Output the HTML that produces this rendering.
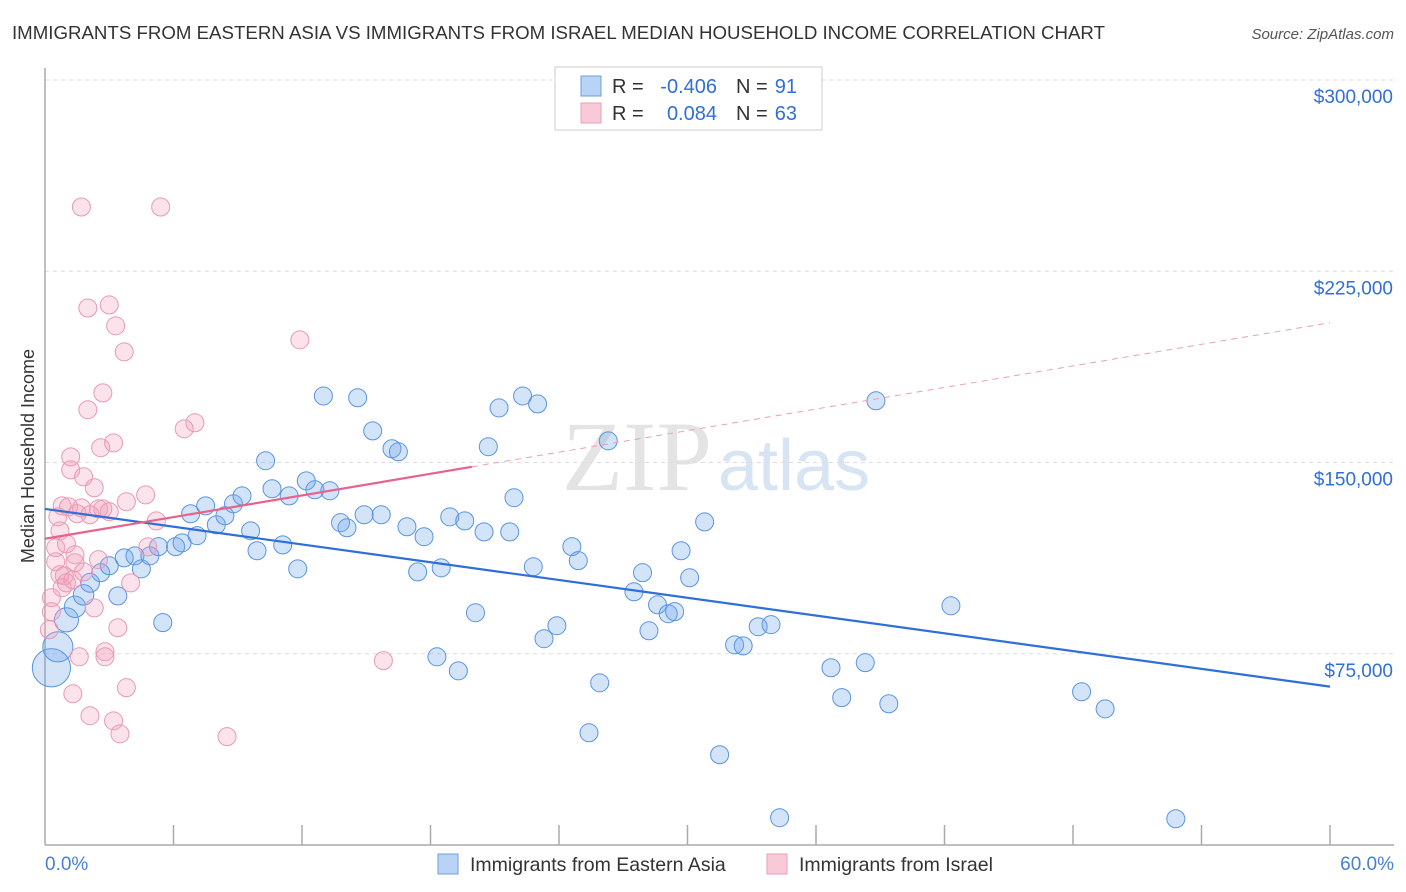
<!DOCTYPE html>
<html><head><meta charset="utf-8"><style>
body{margin:0;background:#fff;font-family:"Liberation Sans",sans-serif;}
#wrap{position:relative;width:1406px;height:892px;overflow:hidden;}
</style></head><body>
<div id="wrap">
<svg id="chart" width="1406" height="892" xmlns="http://www.w3.org/2000/svg">
<text x="12" y="39" font-size="18" fill="#333" textLength="1093" lengthAdjust="spacingAndGlyphs">IMMIGRANTS FROM EASTERN ASIA VS IMMIGRANTS FROM ISRAEL MEDIAN HOUSEHOLD INCOME CORRELATION CHART</text>
<text x="1394" y="39" font-size="15" fill="#555" font-style="italic" text-anchor="end">Source: ZipAtlas.com</text>
<text x="712" y="490" font-size="100" fill="#e4e4e4" font-family="Liberation Serif,serif" text-anchor="end">ZIP</text>
<text x="718" y="490" font-size="72" fill="#d6e4f3" text-anchor="start">atlas</text>
<g id="grid"></g><g id="pts"></g><g id="trend"></g>
<text transform="translate(34,456) rotate(-90)" font-size="18" fill="#333" text-anchor="middle">Median Household Income</text>
<text x="45" y="870" font-size="19" fill="#4a7fd4">0.0%</text>
<text x="1394" y="870" font-size="19" fill="#4a7fd4" text-anchor="end">60.0%</text>
<g>
<rect x="555" y="67" width="267" height="63" fill="#fff" stroke="#ccc"/>
<rect x="581" y="76" width="20" height="20" fill="#b8d3f5" stroke="#6a9fe0"/>
<rect x="581" y="103" width="20" height="20" fill="#f9c9d8" stroke="#e8a0b8"/>
<text x="612" y="93" font-size="20" fill="#333">R =</text>
<text x="717" y="93" font-size="20" fill="#2f6fd6" text-anchor="end">-0.406</text>
<text x="736" y="93" font-size="20" fill="#333">N =</text>
<text x="797" y="93" font-size="20" fill="#2f6fd6" text-anchor="end">91</text>
<text x="612" y="120" font-size="20" fill="#333">R =</text>
<text x="717" y="120" font-size="20" fill="#2f6fd6" text-anchor="end">0.084</text>
<text x="736" y="120" font-size="20" fill="#333">N =</text>
<text x="797" y="120" font-size="20" fill="#2f6fd6" text-anchor="end">63</text>
</g>
<g>
<rect x="438" y="854" width="20" height="20" fill="#b8d3f5" stroke="#6a9fe0"/>
<text x="470" y="871" font-size="19.5" fill="#333">Immigrants from Eastern Asia</text>
<rect x="767" y="854" width="20" height="20" fill="#f9c9d8" stroke="#e8a0b8"/>
<text x="799" y="871" font-size="19.5" fill="#333">Immigrants from Israel</text>
</g>
</svg></div>
<script>
const yTicks=[75000,150000,225000,300000];
const yTickLabels=["$75,000","$150,000","$225,000","$300,000"];
const blueX=[0.3,0.6,1.0,1.4,1.8,2.1,2.6,3.4,3.0,3.7,4.2,4.5,4.9,5.3,5.5,6.1,6.4,6.8,7.1,7.5,8.0,8.4,8.8,9.2,9.6,9.9,10.3,10.6,11.1,11.4,11.8,12.2,12.6,13.0,13.3,13.8,14.1,14.6,14.9,15.3,15.7,16.2,16.5,16.9,17.4,17.7,18.3,18.5,18.9,19.3,19.6,20.1,20.5,20.7,21.2,21.7,21.9,22.3,22.8,23.0,23.3,23.9,24.6,24.9,25.9,25.4,26.3,27.5,27.9,28.2,28.6,29.1,29.4,29.7,30.1,30.8,31.5,32.2,32.6,33.3,33.9,34.3,36.7,37.2,38.3,38.8,39.4,42.3,48.4,49.5,52.8];
const blueY=[69.5,77.7,88.3,93.4,98.1,102.8,106.8,97.7,109.5,112.6,113.4,108.3,113.4,117.0,87.2,117.0,118.5,129.9,121.3,133.0,125.6,129.1,133.8,136.9,123.2,115.4,150.7,139.7,117.7,136.9,108.3,142.8,139.3,176.1,138.9,126.4,124.4,175.4,129.5,162.4,129.5,155.4,154.2,124.8,107.1,120.9,73.8,108.7,128.7,68.3,127.1,91.1,122.8,156.2,171.4,122.8,136.2,176.1,109.1,173.0,80.9,86.0,117.0,111.5,63.6,44.0,158.5,99.3,106.8,84.0,94.2,90.7,91.5,115.4,104.8,126.7,35.4,78.5,78.1,85.6,86.4,10.7,69.5,57.8,71.5,174.2,55.4,93.8,60.1,53.4,10.3];
const blueWeight=[4.5,2.8,1.8,1.4,1.3,1.1];
const pinkX=[1.7,5.4,3.0,2.0,3.3,3.7,11.9,2.7,2.0,7.0,6.5,3.2,2.6,1.2,1.2,1.8,2.3,4.7,3.8,0.8,1.7,1.1,2.5,1.5,2.1,2.7,3.0,0.6,5.2,0.7,0.5,1.0,1.4,2.5,4.8,0.5,1.4,0.7,0.9,1.3,1.8,4.0,0.3,2.3,0.3,0.8,1.0,3.4,2.8,1.6,2.8,15.8,1.3,3.8,2.1,3.2,3.5,8.5,0.2];
const pinkY=[250.2,250.2,211.8,210.6,203.6,193.4,198.1,177.3,170.7,165.6,163.2,157.7,155.8,152.2,147.1,144.4,140.1,137.3,134.6,133.0,132.2,132.6,131.8,129.9,129.5,131.8,130.7,128.7,127.1,123.2,116.6,118.1,113.8,111.9,116.9,111.1,110.7,106.0,105.6,104.0,107.1,102.8,97.0,93.0,91.5,100.9,102.8,85.2,75.8,73.8,73.8,72.3,59.3,61.7,50.7,48.7,43.6,42.5,84.4];
const blueTrend=[[0,131.8],[60,62.1]];
const pinkTrendSolid=[[0,120.1],[19.93,148.3]];
const pinkTrendDash=[[19.93,148.3],[60,204.8]];
const NS="http://www.w3.org/2000/svg";
const X0=45,X1=1330,Y0=845,YTOP=80;
function sx(p){return X0+(p/60)*(X1-X0);}
function sy(v){return Y0-(v/300000)*(Y0-YTOP);}
function mk(tag,attrs,parent){const e=document.createElementNS(NS,tag);for(const k in attrs)e.setAttribute(k,attrs[k]);parent.appendChild(e);return e;}
const grid=document.getElementById('grid');
yTicks.forEach((t,i)=>{
  const l=mk('line',{x1:X0,x2:1394,y1:sy(t),y2:sy(t),stroke:'#ddd','stroke-dasharray':'4,4'},grid);
  
  
  const tx=mk('text',{x:1393,y:sy(t)+23,'font-size':19,fill:'#2f6fd6','text-anchor':'end'},grid);
  tx.textContent=yTickLabels[i];
  
  
});
const ax=mk('line',{x1:X0,x2:X0,y1:68,y2:Y0,stroke:'#aaa','stroke-width':1.5},grid);


const bx=mk('line',{x1:X0,x2:1394,y1:Y0,y2:Y0,stroke:'#aaa','stroke-width':1.5},grid);


for(let i=1;i<=10;i++){
  const t=mk('line',{x1:sx(i*6),x2:sx(i*6),y1:Y0-20,y2:Y0,stroke:'#aaa','stroke-width':1.5},grid);
  
  
}
const pts=document.getElementById('pts');
blueX.forEach((p,i)=>{
  const w=blueWeight[i]||1;
  const c=mk('circle',{cx:sx(p),cy:sy(blueY[i]*1000),r:9*Math.sqrt(w),fill:'rgba(110,165,235,0.3)',stroke:'#5a94e0','stroke-width':1},pts);
  
  
});
pinkX.forEach((p,i)=>{
  const c=mk('circle',{cx:sx(p),cy:sy(pinkY[i]*1000),r:9,fill:'rgba(242,160,188,0.3)',stroke:'#e89ab4','stroke-width':1},pts);
  
  
});
const tr=document.getElementById('trend');
const b=mk('line',{x1:sx(blueTrend[0][0]),y1:sy(blueTrend[0][1]*1000),x2:sx(blueTrend[1][0]),y2:sy(blueTrend[1][1]*1000),stroke:'#2f6fd6','stroke-width':2.2},tr);


const p1=mk('line',{x1:sx(pinkTrendSolid[0][0]),y1:sy(pinkTrendSolid[0][1]*1000),x2:sx(pinkTrendSolid[1][0]),y2:sy(pinkTrendSolid[1][1]*1000),stroke:'#e8628e','stroke-width':2.2},tr);


const p2=mk('line',{x1:sx(pinkTrendDash[0][0]),y1:sy(pinkTrendDash[0][1]*1000),x2:sx(pinkTrendDash[1][0]),y2:sy(pinkTrendDash[1][1]*1000),stroke:'#e8a0b8','stroke-width':1,'stroke-dasharray':'6,5'},tr);


</script>
</body></html>
